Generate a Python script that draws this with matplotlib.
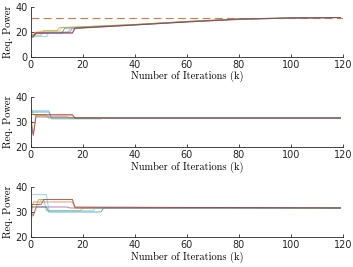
import numpy as np
import matplotlib
matplotlib.use('Agg')
import matplotlib.pyplot as plt

# MATLAB default line colours
colors = ['#0072BD', '#D95319', '#EDB120', '#7E2F8E', '#77AC30', '#4DBEEE', '#A2142F']

k_max = 119
target_power = 31.6

# breakpoints (k, req. power), one list per agent
top_k = [
    [0, 1, 2, 12, 13, 40, 60, 80, 100, 119],
    [0, 1, 2, 15, 16, 40, 60, 80, 100, 119],
    [0, 3, 4, 11, 12, 40, 60, 80, 100, 119],
    [0, 1, 2, 16, 17, 40, 60, 80, 100, 119],
    [0, 4, 5, 10, 11, 40, 60, 80, 100, 119],
    [0, 6, 7, 14, 15, 40, 60, 80, 100, 119],
    [0, 1, 2, 16, 17, 40, 60, 80, 100, 119],
]
top_p = [
    [17.0, 17.0, 19.0, 19.0, 23.0, 26.0, 28.5, 30.5, 31.3, 31.6],
    [18.0, 18.0, 20.0, 20.0, 23.0, 25.8, 28.3, 30.3, 31.2, 31.6],
    [19.0, 19.0, 21.0, 21.0, 23.5, 26.2, 28.6, 30.6, 31.4, 31.6],
    [16.0, 16.0, 19.0, 19.0, 23.0, 25.6, 28.0, 30.0, 31.2, 31.6],
    [17.5, 17.5, 21.0, 21.0, 23.5, 26.0, 28.4, 30.4, 31.3, 31.6],
    [16.5, 16.5, 19.0, 19.0, 22.5, 25.5, 28.2, 30.2, 31.2, 31.6],
    [16.0, 16.0, 19.5, 19.5, 23.0, 25.7, 28.1, 30.4, 31.3, 31.6],
]

mid_k = [
    [0, 7, 8, 119],
    [0, 1, 2, 16, 17, 119],
    [0, 1, 2, 6, 7, 119],
    [0, 1, 2, 14, 15, 119],
    [0, 1, 2, 6, 7, 119],
    [0, 7, 8, 27, 28, 119],
    [0, 16, 17, 119],
]
mid_p = [
    [34.0, 34.0, 31.6, 31.6],
    [33.0, 25.0, 32.5, 32.5, 31.6, 31.6],
    [31.0, 25.0, 33.0, 33.0, 31.6, 31.6],
    [30.0, 24.5, 32.0, 32.0, 31.6, 31.6],
    [36.0, 33.0, 32.5, 32.5, 31.6, 31.6],
    [34.5, 34.5, 31.2, 31.2, 31.6, 31.6],
    [33.0, 33.0, 31.6, 31.6],
]

bot_k = [
    [0, 6, 7, 27, 28, 119],
    [0, 1, 2, 16, 17, 119],
    [0, 3, 4, 16, 17, 119],
    [0, 1, 2, 14, 15, 119],
    [0, 2, 3, 5, 6, 19, 20, 119],
    [0, 6, 7, 24, 25, 119],
    [0, 4, 5, 16, 17, 119],
]
bot_p = [
    [32.0, 32.0, 30.0, 30.0, 31.6, 31.6],
    [28.0, 34.0, 34.0, 34.0, 31.6, 31.6],
    [27.0, 33.0, 35.0, 35.0, 31.6, 31.6],
    [30.0, 28.5, 32.0, 32.0, 31.6, 31.6],
    [32.0, 32.0, 35.0, 35.0, 30.5, 30.5, 31.6, 31.6],
    [37.0, 37.0, 30.5, 30.5, 31.6, 31.6],
    [33.0, 33.0, 35.0, 35.0, 32.0, 31.6],
]

fig = plt.figure(figsize=(3.53, 2.67), dpi=100)

left, width = 0.087, 0.885
boxes = [(0.7865, 0.187), (0.449, 0.188), (0.112, 0.188)]
ylims = [(0, 40), (20, 40), (20, 40)]
yticks = [[0, 20, 40], [20, 30, 40], [20, 30, 40]]
all_k = [top_k, mid_k, bot_k]
all_p = [top_p, mid_p, bot_p]

for i, (b, h) in enumerate(boxes):
    ax = fig.add_axes([left, b, width, h])
    if i == 0:
        ax.plot([0, 120], [target_power, target_power], color=colors[1],
                lw=0.8, alpha=0.8, dashes=[7, 4])
    for j, (ks, ps) in enumerate(zip(all_k[i], all_p[i])):
        ax.plot(ks, ps, color=colors[j], lw=0.65, alpha=0.65)
    ax.set_xlim(0, 120)
    ax.set_ylim(*ylims[i])
    ax.set_xticks([0, 20, 40, 60, 80, 100, 120])
    ax.set_yticks(yticks[i])
    ax.spines['top'].set_visible(False)
    ax.spines['right'].set_visible(False)
    for s in ('left', 'bottom'):
        ax.spines[s].set_linewidth(0.6)
        ax.spines[s].set_color('#262626')
    ax.tick_params(direction='in', length=2.5, width=0.6, labelsize=7,
                   colors='#262626', pad=2)
    ax.set_xlabel('Number of Iterations (k)', fontfamily='cmr10', fontsize=7.5, labelpad=1)
    ax.set_ylabel('Req. Power', fontfamily='cmr10', fontsize=7.5, labelpad=2)

fig.savefig('out.png', dpi=100)
